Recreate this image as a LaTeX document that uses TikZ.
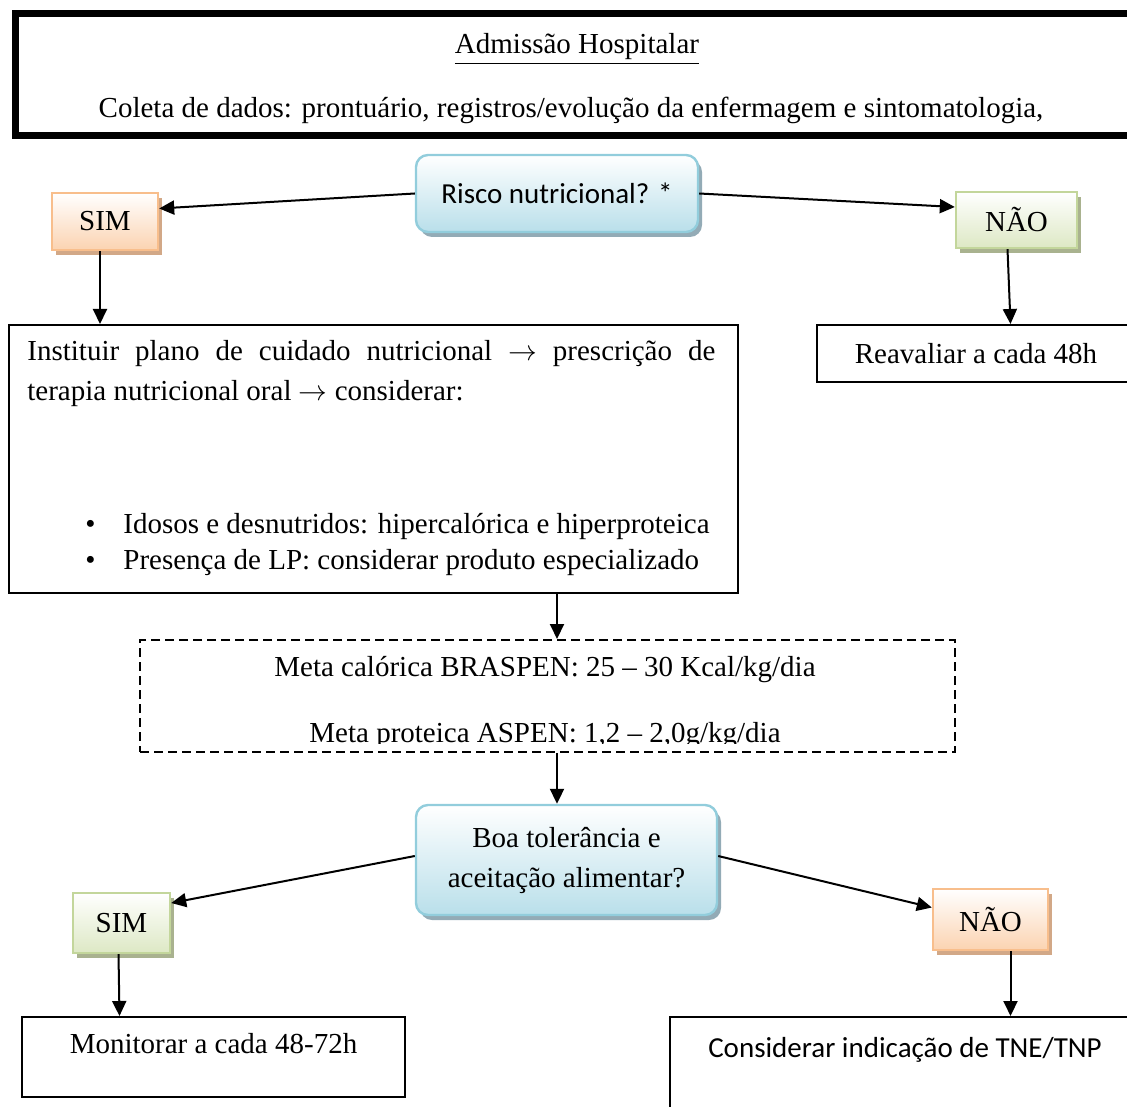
\documentclass[tikz,border=0pt]{standalone}
\usepackage{fontspec}
\setmainfont{Liberation Serif}
\newfontfamily\calibrifont{Carlito}
\usetikzlibrary{arrows.meta,shadows}

\definecolor{orangeline}{HTML}{F8BE8C}
\definecolor{orangefill}{HTML}{FBD3B1}
\definecolor{orangeshade}{HTML}{D2A887}
\definecolor{greenline}{HTML}{C3D69B}
\definecolor{greenfill}{HTML}{DDE8C4}
\definecolor{greenshade}{HTML}{A9B28F}
\definecolor{blueline}{HTML}{92CDDC}
\definecolor{bluefill}{HTML}{B9DFEA}
\definecolor{blueshade}{HTML}{93ABB6}

\begin{document}
\begin{tikzpicture}[
    x=.5pt,
    y=-.5pt,
    every node/.style={
      font=\fontsize{14.5}{20}\selectfont,
    },
    frame/.style={
      draw,
      line width=3.5pt,
      inner sep=0,
    },
    plain/.style={
      draw,
      line width=1pt,
      inner sep=0,
      align=center,
    },
    goalbox/.style={
      draw,
      line width=1pt,
      dash pattern=on 4.5pt off 2.5pt,
      inner sep=0,
    },
    question/.style={
      draw=blueline,
      line width=1.2pt,
      rounded corners=6pt,
      top color=white,
      bottom color=bluefill,
      drop shadow={shadow xshift=2pt,shadow yshift=-2.5pt,fill=blueshade,opacity=1},
      inner sep=0,
      align=center,
    },
    yesno/.style={
      line width=1.2pt,
      top color=white,
      inner sep=0,
    },
    orangebox/.style={
      yesno,
      draw=orangeline,
      bottom color=orangefill,
      drop shadow={shadow xshift=2pt,shadow yshift=-2.5pt,fill=orangeshade,opacity=1},
    },
    greenbox/.style={
      yesno,
      draw=greenline,
      bottom color=greenfill,
      drop shadow={shadow xshift=2pt,shadow yshift=-2.5pt,fill=greenshade,opacity=1},
    },
    textline/.style={
      inner sep=0,
      anchor=base,
    },
    arrow/.style={
      line width=1pt,
      -{Triangle[length=7.5pt,width=7pt]},
    },
  ]
    \clip (0,0) rectangle (1127,1106);

    % admission
    \node[frame, minimum width=558pt, minimum height=61pt] (admission) at (573,75) {};
    \node[textline] (admtitle) at (577,54) {\underline{Admissão Hospitalar}};
    \node[textline] (admdata) at (571,118)
    {Coleta de dados: prontuário, registros/evolução da enfermagem e sintomatologia,};

    % first question
    \node[question, minimum width=141pt, minimum height=38.5pt] (risk) at (557,193.5)
    {\calibrifont Risco nutricional? *};
    \node[orangebox, minimum width=53pt, minimum height=28.5pt] (yesrisk) at (105,221.5) {SIM};
    \node[greenbox, minimum width=60.5pt, minimum height=28pt] (norisk) at (1016.5,220) {NÃO};

    \node[plain, minimum width=364.5pt, minimum height=134pt] (plan) at (373.5,459) {};
    \node[inner sep=0, text width=344pt, align=justify, anchor=base west] (plantext) at (27,361)
    {Instituir plano de cuidado nutricional $\rightarrow$ prescrição de\linebreak
     terapia nutricional oral $\rightarrow$ considerar:\par
     \fontsize{14.5}{18}\selectfont\vspace{48pt}
     \noindent\hspace*{29pt}\makebox[19pt][l]{•}\mbox{Idosos e desnutridos: hipercalórica e hiperproteica}\par
     \vspace{-2pt}
     \noindent\hspace*{29pt}\makebox[19pt][l]{•}\mbox{Presença de LP: considerar produto especializado}};
    \node[plain, minimum width=159pt, minimum height=28.5pt] (review) at (976,353.5) {Reavaliar a cada 48h};

    % goals
    \coordinate (spine) at (557,0);
    \node[goalbox, minimum width=407.5pt, minimum height=56pt] (goals) at (547.5,696) {};
    \begin{scope}
      \clip (140,640) rectangle (955,743);
      \node[textline] (goalkcal) at (545,676) {Meta calórica BRASPEN: 25 – 30 Kcal/kg/dia};
      \node[textline] (goalprot) at (545,742) {Meta proteica ASPEN: 1,2 – 2,0g/kg/dia};
    \end{scope}

    % second question
    \node[question, minimum width=150.5pt, minimum height=55pt] (tolerance) at (566.5,860)
    {Boa tolerância e\\aceitação alimentar?};
    \node[greenbox, minimum width=48.5pt, minimum height=30pt] (yestol) at (121.5,923) {SIM};
    \node[orangebox, minimum width=57.5pt, minimum height=30.5pt] (notol) at (990.5,919.5) {NÃO};

    \node[plain, minimum width=191.5pt, minimum height=40pt] (monitor) at (213.5,1057)
    {Monitorar a cada 48-72h\\[-6pt]~};
    \node[plain, minimum width=235pt, minimum height=50pt] (consider) at (905,1067)
    {\calibrifont Considerar indicação de TNE/TNP\\~};

    % connectors
    \draw[arrow] (risk.west) -- ([yshift=6.5pt]yesrisk.east);
    \draw[arrow] (risk.east) -- ([yshift=6.5pt]norisk.west);
    \draw[arrow] ([xshift=-2.5pt]yesrisk.south) -- ([xshift=-2.5pt]yesrisk.south |- plan.north);
    \draw[arrow] ([xshift=-4.5pt]norisk.south) -- ([xshift=-3pt]norisk.south |- review.north);
    \draw[arrow] (spine |- plan.south) -- (spine |- goals.north);
    \draw[arrow] (spine |- goals.south) -- (spine |- tolerance.north);
    \draw[arrow] ([yshift=2pt]tolerance.west) -- ([yshift=10pt]yestol.east);
    \draw[arrow] ([yshift=2pt]tolerance.east) -- ([yshift=6pt]notol.west);
    \draw[arrow] ([xshift=-1.5pt]yestol.south) -- ([xshift=-1pt]yestol.south |- monitor.north);
    \draw[arrow] ([xshift=10pt]notol.south) -- ([xshift=10pt]notol.south |- consider.north);
  \end{tikzpicture}
\end{document}
